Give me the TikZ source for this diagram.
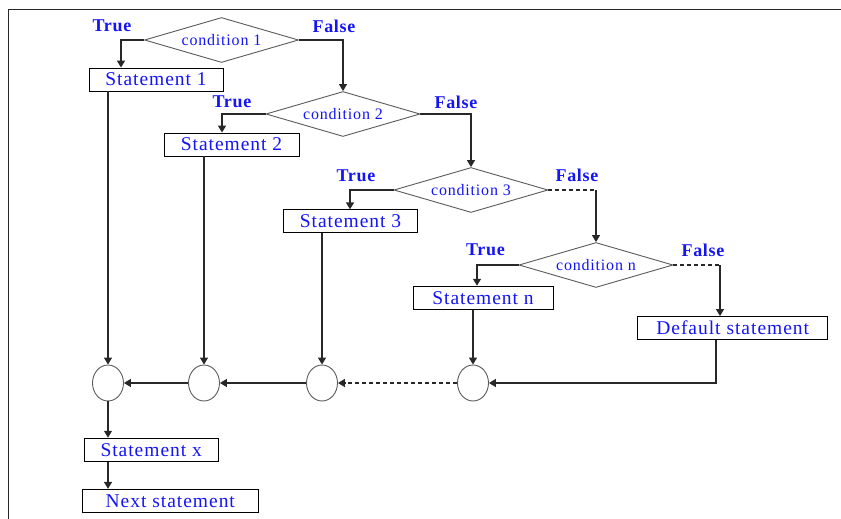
\documentclass[tikz,border=0pt]{standalone}
\usepackage{fontspec}
\setmainfont{Liberation Serif}
\newfontfamily\stmfam{Liberation Serif}[LetterSpace=5]
\newfontfamily\lblfam{Liberation Serif}[LetterSpace=4]
\newcommand\stmfnt{\stmfam\fontsize{19.5}{21}\selectfont}
\newcommand\cndfnt{\stmfam\fontsize{16}{18}\selectfont}
\newcommand\lblfnt{\lblfam\bfseries\fontsize{18}{20}\selectfont}
\usetikzlibrary{arrows.meta,shapes.geometric}
\definecolor{txtblue}{RGB}{20,20,245}
\definecolor{lg}{RGB}{90,90,90}
\definecolor{cl}{RGB}{40,40,40}
\begin{document}
\begin{tikzpicture}[x=1pt,y=-1pt,
  stmbox/.style={draw=black, line width=0.9pt, minimum width=#1, minimum height=23pt, inner sep=0pt, font=\stmfnt, text=txtblue},
  dia/.style={diamond, draw=lg, line width=0.9pt, aspect=3.3, minimum width=154pt, minimum height=45pt, inner sep=0pt, font=\cndfnt, text=txtblue},
  circ/.style={ellipse, draw=lg, line width=0.9pt, minimum width=31pt, minimum height=36pt, inner sep=0pt},
  lbl/.style={font=\lblfnt, text=txtblue, inner sep=0pt},
  conn/.style={draw=cl, line width=1.4pt},
  arr/.style={conn, -{Triangle[length=7pt,width=8pt]}},
  dsh/.style={dash pattern=on 4pt off 3pt},
  frame/.style={draw=cl, line width=1pt}
]
\useasboundingbox (0,0) rectangle (841,519);
\draw[frame] (8,519) -- (8,9.5) -- (841,9.5);

% decisions
\node[dia] (c1) at (221.5,40) {condition 1};
\node[dia] (c2) at (343,114) {condition 2};
\node[dia] (c3) at (471,190) {condition 3};
\node[dia] (cn) at (596,265) {condition n};

% statements
\node[stmbox=134pt] (s1) at (156,79.5) {Statement 1};
\node[stmbox=135pt] (s2) at (231.5,144.5) {Statement 2};
\node[stmbox=134pt] (s3) at (350.5,221.3) {Statement 3};
\node[stmbox=140pt] (sn) at (483,297.7) {Statement n};
\node[stmbox=190pt] (sd) at (732.7,328) {Default statement};
\node[stmbox=134pt] (sx) at (151.2,449.7) {Statement x};
\node[stmbox=176pt] (nx) at (170.3,500.8) {Next statement};

% junctions
\node[circ] (o1) at (108,383) {};
\node[circ] (o2) at (204,383) {};
\node[circ] (o3) at (322,383) {};
\node[circ] (o4) at (473,383) {};

% labels
\node[lbl] (t1) at (112,26) {True};
\node[lbl] (f1) at (334,26) {False};
\node[lbl] (t2) at (232,102) {True};
\node[lbl] (f2) at (456,102) {False};
\node[lbl] (t3) at (356,176) {True};
\node[lbl] (f3) at (577,175.5) {False};
\node[lbl] (tn) at (485.5,250) {True};
\node[lbl] (fn) at (703,250.3) {False};

% branch connectors
\draw[arr] (c1.west) -| (121,0 |- s1.north);
\draw[arr] (c1.east) -| (c2.north);
\draw[arr] (c2.west) -| (222,0 |- s2.north);
\draw[arr] (c2.east) -| (c3.north);
\draw[arr] (c3.west) -| (350,0 |- s3.north);
\coordinate (k3) at (c3.east -| cn.north);
\draw[conn,dsh] (c3.east) -- (k3);
\draw[arr] (k3) -- (cn.north);
\draw[arr] (cn.west) -| (477,0 |- sn.north);
\coordinate (kn) at (720,0 |- cn.east);
\draw[conn,dsh] (cn.east) -- (kn);
\draw[arr] (kn) -- (kn |- sd.north);

% merge connectors
\draw[arr] (o1.north |- s1.south) -- (o1.north);
\draw[arr] (o2.north |- s2.south) -- (o2.north);
\draw[arr] (o3.north |- s3.south) -- (o3.north);
\draw[arr] (o4.north |- sn.south) -- (o4.north);
\coordinate (kd) at (716,0 |- o4.east);
\draw[arr] (716,0 |- sd.south) -- (kd) -- (o4.east);
\draw[arr,dsh] (o4.west) -- (o3.east);
\draw[arr] (o3.west) -- (o2.east);
\draw[arr] (o2.west) -- (o1.east);
\draw[arr] (o1.south) -- (o1.south |- sx.north);
\draw[arr] (o1.south |- sx.south) -- (o1.south |- nx.north);
\end{tikzpicture}
\end{document}
